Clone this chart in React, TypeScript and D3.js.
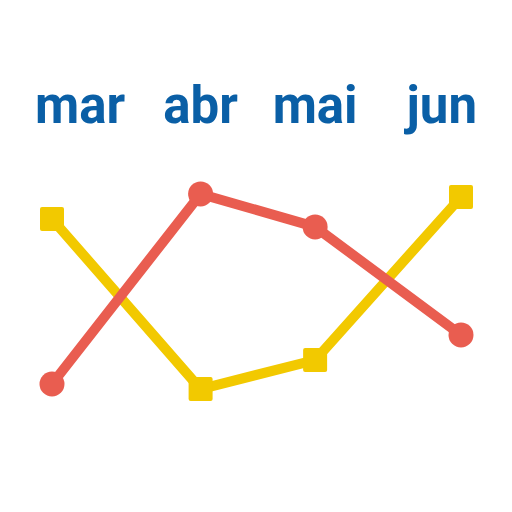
import { useEffect, useRef } from 'react';
import * as d3 from 'd3';

const months = ['mar', 'abr', 'mai', 'jun'];
const monthPos = [0, 1.09, 1.93, 3];
const redValues = [0.91, 9.55, 8.05, 3.14];
const yellowValues = [8.41, 0.68, 2.0, 9.41];

const RED = '#e95d50';
const YELLOW = '#f2c900';
const BLUE = '#0a5fa6';

export default function App() {
  const ref = useRef<SVGSVGElement>(null);

  useEffect(() => {
    if (!ref.current) return;
    const svg = d3.select(ref.current);
    svg.selectAll('*').remove();

    const x = d3.scaleLinear().domain([0, 3]).range([52, 461]);
    const y = d3.scaleLinear().domain([0, 10]).range([404, 184]);

    // month labels: outer ones hang past the end points
    svg
      .append('g')
      .selectAll('text')
      .data(months)
      .enter()
      .append('text')
      .attr('x', (_, i) => x(monthPos[i]) + (i === 0 ? -17 : i === months.length - 1 ? 16 : 0))
      .attr('y', 123)
      .attr('text-anchor', (_, i) => (i === 0 ? 'start' : i === months.length - 1 ? 'end' : 'middle'))
      .attr('font-family', 'Roboto, sans-serif')
      .attr('font-weight', 700)
      .attr('font-size', 51)
      .attr('fill', BLUE)
      .text((d) => d);

    const line = d3
      .line<number>()
      .x((_, i) => x(monthPos[i]))
      .y((d) => y(d));

    // yellow series (squares)
    svg
      .append('path')
      .datum(yellowValues)
      .attr('d', line)
      .attr('fill', 'none')
      .attr('stroke', YELLOW)
      .attr('stroke-width', 10);
    svg
      .append('g')
      .selectAll('rect')
      .data(yellowValues)
      .enter()
      .append('rect')
      .attr('x', (_, i) => x(monthPos[i]) - 12)
      .attr('y', (d) => y(d) - 12)
      .attr('width', 24)
      .attr('height', 24)
      .attr('rx', 2)
      .attr('fill', YELLOW);

    // red series (circles)
    svg
      .append('path')
      .datum(redValues)
      .attr('d', line)
      .attr('fill', 'none')
      .attr('stroke', RED)
      .attr('stroke-width', 10);
    svg
      .append('g')
      .selectAll('circle')
      .data(redValues)
      .enter()
      .append('circle')
      .attr('cx', (_, i) => x(monthPos[i]))
      .attr('cy', (d) => y(d))
      .attr('r', 12.5)
      .attr('fill', RED);
  }, []);

  return (
    <svg
      ref={ref}
      width={512}
      height={512}
      style={{ position: 'absolute', left: 0, top: 0, background: '#fff' }}
    />
  );
}
